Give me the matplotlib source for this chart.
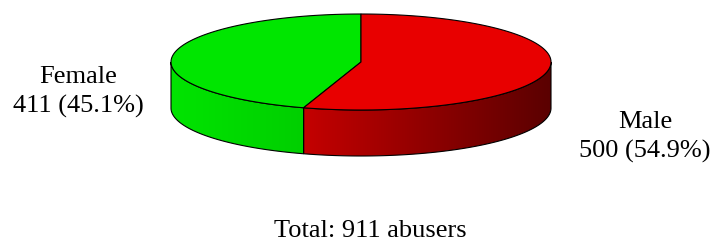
import numpy as np
import matplotlib.pyplot as plt
from matplotlib.patches import Polygon
from matplotlib.colors import LinearSegmentedColormap

# data
labels = ["Female", "Male"]
counts = [411, 500]
top_colors = ["#00e600", "#e80000"]
side_colors = [("#00e400", "#00cf00"), ("#c40000", "#5a0000")]

total = sum(counts)
shares = [c / total for c in counts]

# geometry in pixels (y down)
cx, cy = 361, 62
rx, ry = 190, 48
depth = 46

fig = plt.figure(figsize=(7.13, 2.44), dpi=100)
ax = fig.add_axes([0, 0, 1, 1])
ax.set_xlim(0, 713)
ax.set_ylim(244, 0)
ax.axis("off")


def ell(t):
    t = np.radians(t)
    return cx + rx * np.cos(t), cy + ry * np.sin(t)


# slice angles: start at top (270 deg, y down), going to the left (decreasing t)
bounds = [270.0]
for s in shares:
    bounds.append(bounds[-1] - 360 * s)

# side walls, only the front half (t in [0, 180]) shows
for i in range(len(counts)):
    hi, lo = bounds[i], bounds[i + 1]
    a, b = max(lo, 0), min(hi, 180)
    if a >= b:
        continue
    t = np.linspace(a, b, 200)
    x, y = ell(t)
    pts = np.concatenate([np.column_stack([x, y]),
                          np.column_stack([x[::-1], y[::-1] + depth])])
    poly = Polygon(pts, closed=True, facecolor="none", edgecolor="black", lw=0.8, zorder=3)
    ax.add_patch(poly)
    cmap = LinearSegmentedColormap.from_list("s%d" % i, side_colors[i])
    grad = np.linspace(0, 1, 256).reshape(1, -1)
    im = ax.imshow(grad, cmap=cmap, aspect="auto",
                   extent=[x.min(), x.max(), y.max() + depth + 1, y.min() - 1], zorder=2)
    im.set_clip_path(poly)

# top faces
for i in range(len(counts)):
    t = np.linspace(bounds[i], bounds[i + 1], 300)
    x, y = ell(t)
    pts = np.concatenate([[[cx, cy]], np.column_stack([x, y])])
    ax.add_patch(Polygon(pts, closed=True, facecolor=top_colors[i],
                         edgecolor="black", lw=0.8, zorder=4))

ax.set_xlim(0, 713)
ax.set_ylim(244, 0)

font = dict(family="Liberation Serif", fontsize=19, ha="center", va="center")
ax.text(78, 92, f"{labels[0]}\n{counts[0]} ({shares[0]*100:.1f}%)", linespacing=1.38, **font)
ax.text(645, 137, f"{labels[1]}\n{counts[1]} ({shares[1]*100:.1f}%)", linespacing=1.38, **font)
ax.text(370, 231, f"Total: {total} abusers", **font)

fig.savefig("out.png", dpi=100)
